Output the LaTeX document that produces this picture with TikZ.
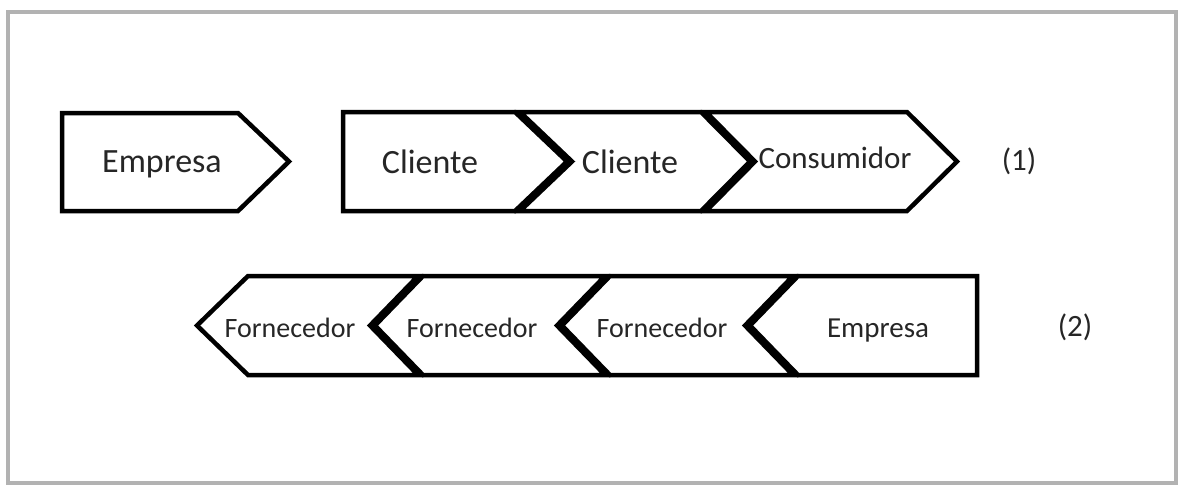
\documentclass[tikz,border=0pt]{standalone}
\usepackage{fontspec}
\setmainfont{Carlito}
\begin{document}
\begin{tikzpicture}[x=1pt,y=-1pt,
  shapeline/.style={draw=black,line width=4.5pt,line join=miter,fill=white},
  lbl/.style={anchor=base,inner sep=0pt,text=black!85},
  frameline/.style={draw=black!30,line width=4.5pt}]
\useasboundingbox (0,0) rectangle (1178,485);
\fill[white] (0,0) rectangle (1178,485);
\draw[frameline] (8,12) rectangle (1176,483);

% upper value chain
\path[shapeline] (62,113) -- (238,113) -- (289,161.5) -- (238,211) -- (62,211) -- cycle;
\path[shapeline] (343,112) -- (515,112) -- (567,161.5) -- (515,211) -- (343,211) -- cycle;
\path[shapeline] (520,112) -- (701,112) -- (750,161.5) -- (701,211) -- (520,211) -- (572,161.5) -- cycle;
\path[shapeline] (706,112) -- (907,112) -- (957,161.5) -- (907,211) -- (706,211) -- (755,161.5) -- cycle;

\node[lbl,font=\fontsize{34}{34}\selectfont] (emp1) at (162,172) {Empresa};
\node[lbl,font=\fontsize{34}{34}\selectfont] (cli1) at (430,173) {Cliente};
\node[lbl,font=\fontsize{34}{34}\selectfont] (cli2) at (630,173) {Cliente};
\node[lbl,font=\fontsize{31}{31}\selectfont] (cons) at (835,168) {Consumidor};
\node[lbl,font=\fontsize{31}{31}\selectfont] (n1) at (1019,170) {(1)};

% lower value chain
\path[shapeline] (248,276) -- (418,276) -- (370,325.5) -- (418,375) -- (248,375) -- (197,325.5) -- cycle;
\path[shapeline] (423,276) -- (605,276) -- (557,325.5) -- (605,375) -- (423,375) -- (375,325.5) -- cycle;
\path[shapeline] (610,276) -- (793,276) -- (745,325.5) -- (793,375) -- (610,375) -- (562,325.5) -- cycle;
\path[shapeline] (798,276) -- (977,276) -- (977,375) -- (798,375) -- (750,325.5) -- cycle;

\node[lbl,font=\fontsize{28}{28}\selectfont] (f1) at (290,337) {Fornecedor};
\node[lbl,font=\fontsize{28}{28}\selectfont] (f2) at (472,337) {Fornecedor};
\node[lbl,font=\fontsize{28}{28}\selectfont] (f3) at (662,337) {Fornecedor};
\node[lbl,font=\fontsize{29}{29}\selectfont] (emp2) at (878,337) {Empresa};
\node[lbl,font=\fontsize{31}{31}\selectfont] (n2) at (1075,336) {(2)};
\end{tikzpicture}
\end{document}
